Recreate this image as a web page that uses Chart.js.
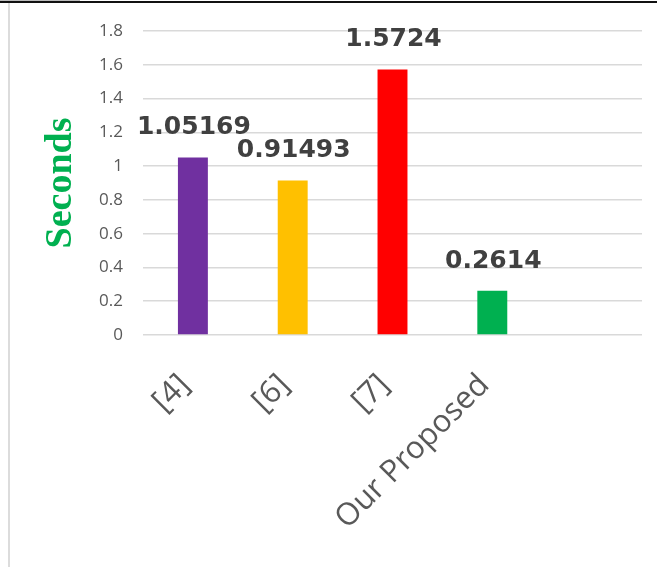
<!DOCTYPE html>
<html>
<head>
<meta charset="utf-8">
<script src="https://cdn.jsdelivr.net/npm/chart.js@4/dist/chart.umd.min.js"></script>
<style>
  html, body { margin: 0; padding: 0; background: #fff; }
  #wrap { position: relative; width: 657px; height: 567px; overflow: hidden; }
  #topline { position: absolute; left: 0; top: 1px; width: 657px; height: 2px; background: #111; }
  #topgray { position: absolute; left: 0; top: 0; width: 80px; height: 1px; background: #bbb; }
  #leftline { position: absolute; left: 8px; top: 3px; width: 2px; height: 564px; background: #dcdcdc; }
  canvas { position: absolute; left: 0; top: 0; }
</style>
</head>
<body>
<div id="wrap">
  <canvas id="c" width="657" height="567"></canvas>
  <div id="topgray"></div>
  <div id="topline"></div>
  <div id="leftline"></div>
</div>
<script>
const categories = ["[4]", "[6]", "[7]", "Our Proposed", ""];
const seconds = [1.05169, 0.91493, 1.5724, 0.2614, null];
const barColors = ["#7030A0", "#FFC000", "#FF0000", "#00B050", "#000000"];
const yTicks = [0, 0.2, 0.4, 0.6, 0.8, 1, 1.2, 1.4, 1.6, 1.8];
const yTitle = "Seconds";

const valueLabels = {
  id: 'valueLabels',
  afterDatasetsDraw(chart) {
    const ctx = chart.ctx;
    const meta = chart.getDatasetMeta(0);
    ctx.save();
    ctx.font = 'bold 25px "DejaVu Sans"';
    ctx.fillStyle = '#404040';
    ctx.textAlign = 'center';
    ctx.textBaseline = 'alphabetic';
    meta.data.forEach((bar, i) => {
      const v = chart.data.datasets[0].data[i];
      if (v === null || v === undefined) return;
      ctx.fillText(String(v), bar.x + 1, bar.y - 23);
    });
    ctx.restore();
  }
};

new Chart(document.getElementById('c'), {
  type: 'bar',
  data: {
    labels: categories,
    datasets: [{
      data: seconds,
      backgroundColor: barColors,
      barPercentage: 0.3,
      categoryPercentage: 1.0,
      borderWidth: 0
    }]
  },
  options: {
    responsive: false,
    animation: false,
    events: [],
    layout: { padding: { left: 0, right: 15, top: 31, bottom: 0 } },
    plugins: { legend: { display: false }, tooltip: { enabled: false } },
    scales: {
      x: {
        grid: { display: false },
        border: { display: false },
        ticks: {
          autoSkip: false,
          minRotation: 45,
          maxRotation: 45,
          padding: 24,
          labelOffset: -8,
          color: '#595959',
          font: { family: '"Open Sans"', size: 31 }
        },
        afterFit(scale) { scale.height = 232; }
      },
      y: {
        min: 0,
        max: 1.8,
        afterBuildTicks(scale) { scale.ticks = yTicks.map(v => ({ value: v })); },
        grid: { color: '#d9d9d9', lineWidth: 1.5, drawTicks: false },
        border: { display: false },
        ticks: {
          padding: 20,
          color: '#595959',
          font: { family: '"Open Sans"', size: 17 },
          callback: v => String(Math.round(v * 10) / 10)
        },
        title: {
          display: true,
          text: yTitle,
          color: '#00B050',
          font: { family: '"Liberation Serif"', size: 38, weight: 'bold' },
          padding: { top: 38, bottom: 0 }
        },
        afterFit(scale) { scale.width = 143; }
      }
    }
  },
  plugins: [valueLabels]
});
</script>
</body>
</html>
